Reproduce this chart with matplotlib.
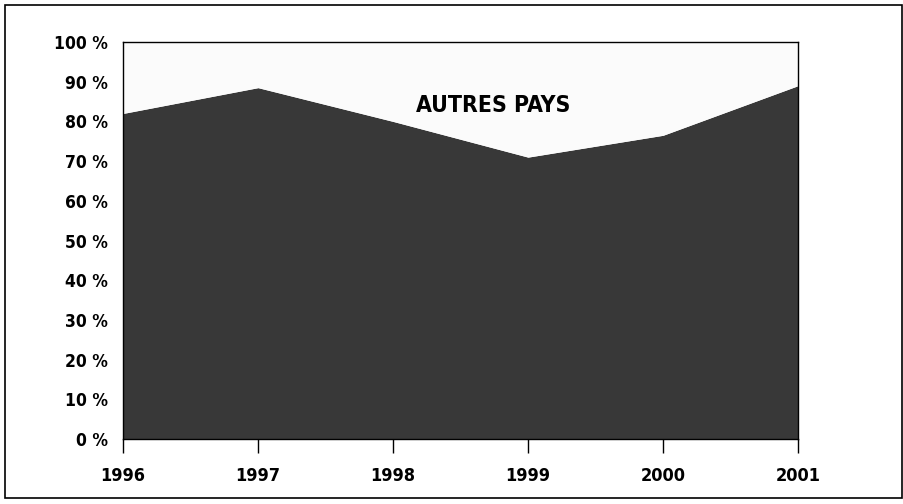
import matplotlib
matplotlib.use("Agg")
import matplotlib.pyplot as plt
from matplotlib.patches import Rectangle

years = [1996, 1997, 1998, 1999, 2000, 2001]
main_share = [82, 88.5, 80, 71, 76.5, 89]
autres_label = "AUTRES PAYS"
y_ticks = list(range(0, 101, 10))
y_labels = [f"{v} %" for v in y_ticks]

plt.rcParams['font.family'] = ['DejaVu Sans']
plt.rcParams['font.stretch'] = 'condensed'

fig = plt.figure(figsize=(9.04, 5.04), dpi=100)
ax = fig.add_axes([123/904, 1-439/504, (798-123)/904, (439-42)/504])

top = [100] * len(years)
ax.fill_between(years, 0, main_share, color='#383838', linewidth=0)
ax.fill_between(years, main_share, top, color='#fbfbfb', linewidth=0)

ax.set_xlim(years[0], years[-1])
ax.set_ylim(0, 100)
ax.set_yticks(y_ticks)
ax.set_yticklabels(y_labels, fontsize=12.5, fontweight='bold')
ax.set_xticks(years)
ax.set_xticklabels([str(y) for y in years], fontsize=13, fontweight='bold')
ax.tick_params(axis='y', length=0, pad=11)
ax.tick_params(axis='x', length=10, width=1, pad=10, direction='out')
for s in ax.spines.values():
    s.set_linewidth(1)
    s.set_color('black')

ax.text(1998.74, 84.0, autres_label, fontsize=16.5, fontweight='bold',
        ha='center', va='center', color='black')

fig.patches.append(Rectangle((5/904, 1-498/504), (902-5)/904, (498-5)/504,
                             transform=fig.transFigure, fill=False,
                             edgecolor='black', linewidth=1.2))

fig.savefig("out.png", dpi=100)
